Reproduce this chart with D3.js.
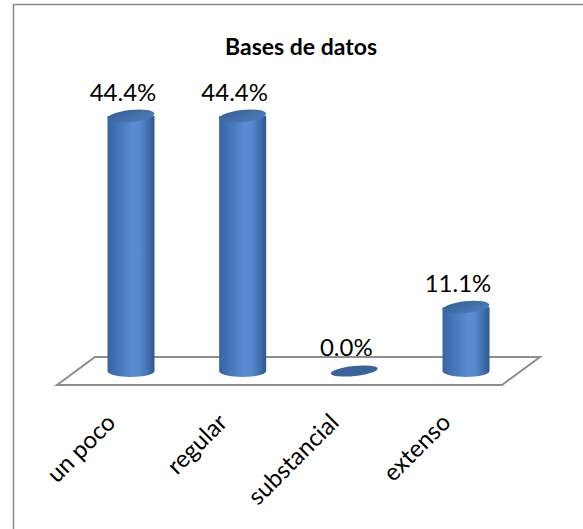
<!DOCTYPE html>
<html>
<head>
<meta charset="utf-8">
<script src="https://cdn.jsdelivr.net/npm/d3@7"></script>
<style>
  html, body { margin: 0; padding: 0; background: #fff; }
  svg { display: block; }
</style>
</head>
<body>
<svg id="chart" width="583" height="529"></svg>
<script>
// Survey results: "Bases de datos"
const title = "Bases de datos";
const categories = ["un poco", "regular", "substancial", "extenso"];
const values = [44.4, 44.4, 0.0, 11.1];
const valueLabels = ["44.4%", "44.4%", "0.0%", "11.1%"];

const W = 583, H = 529;
const svg = d3.select("#chart");
const font = "Lato, 'Open Sans', sans-serif";

// chart frame (runs past the right and bottom edges)
svg.append("rect")
  .attr("x", 13.5).attr("y", 4.5)
  .attr("width", W + 20).attr("height", H + 20)
  .attr("fill", "#fff")
  .attr("stroke", "#8a8a8a").attr("stroke-width", 1.5);

// title
svg.append("text")
  .attr("x", 301).attr("y", 55)
  .attr("text-anchor", "middle")
  .attr("font-family", font).attr("font-weight", "bold")
  .attr("font-size", 23).attr("fill", "#000")
  .text(title);

// scales
const x = d3.scalePoint().domain(categories).range([131, 466]);
const y = d3.scaleLinear().domain([0, 44.4]).range([371, 116]);

// 3D floor
const floor = [[57, 385], [95, 357], [540, 357], [502, 385]];
svg.append("path")
  .attr("d", d3.line()(floor) + "Z")
  .attr("fill", "#fff")
  .attr("stroke", "#8e8e8e").attr("stroke-width", 2)
  .attr("stroke-linejoin", "miter");

// gradients for the cylinders
const defs = svg.append("defs");
const bodyGrad = defs.append("linearGradient").attr("id", "cylBody")
  .attr("x1", "0%").attr("x2", "100%").attr("y1", "0%").attr("y2", "0%");
[["0%", "#3764a0"], ["15%", "#3f70b1"], ["55%", "#5a8dd3"], ["70%", "#5688cc"],
 ["88%", "#3e6dab"], ["100%", "#2c5790"]]
  .forEach(([o, c]) => bodyGrad.append("stop").attr("offset", o).attr("stop-color", c));
const capGrad = defs.append("linearGradient").attr("id", "cylTop")
  .attr("x1", "0%").attr("x2", "100%").attr("y1", "0%").attr("y2", "100%");
[["0%", "#355e94"], ["60%", "#4472ad"], ["100%", "#4d7dbb"]]
  .forEach(([o, c]) => capGrad.append("stop").attr("offset", o).attr("stop-color", c));

const rx = 23.5, ry = 6;
const tilt = -6;

const bars = svg.append("g").selectAll("g")
  .data(categories.map((c, i) => ({ c, v: values[i], label: valueLabels[i] })))
  .join("g");

// cylinder body
bars.filter(d => d.v > 0).append("path")
  .attr("fill", "url(#cylBody)")
  .attr("d", d => {
    const cx = x(d.c), yb = y(0), yt = y(d.v);
    return `M${cx - rx},${yt} L${cx - rx},${yb} A${rx},${ry} 0 0 0 ${cx + rx},${yb} L${cx + rx},${yt} Z`;
  });

// cylinder top (or the flat disc for zero)
bars.append("ellipse")
  .attr("cx", d => x(d.c))
  .attr("cy", d => y(d.v))
  .attr("rx", rx).attr("ry", d => d.v > 0 ? ry : 5)
  .attr("transform", d => `rotate(${tilt},${x(d.c)},${y(d.v)})`)
  .attr("fill", d => d.v > 0 ? "url(#cylTop)" : "#3a6399");

// value labels
bars.append("text")
  .attr("x", d => x(d.c) - 8)
  .attr("y", d => y(d.v) - 15)
  .attr("text-anchor", "middle")
  .attr("font-family", font).attr("font-size", 24)
  .attr("fill", "#000")
  .text(d => d.label);

// category labels
svg.append("g").selectAll("text")
  .data(categories)
  .join("text")
  .attr("text-anchor", "end")
  .attr("transform", d => `translate(${x(d) - 14},${424}) rotate(-45)`)
  .attr("font-family", font).attr("font-size", 24)
  .attr("fill", "#000")
  .text(d => d);
</script>
</body>
</html>
